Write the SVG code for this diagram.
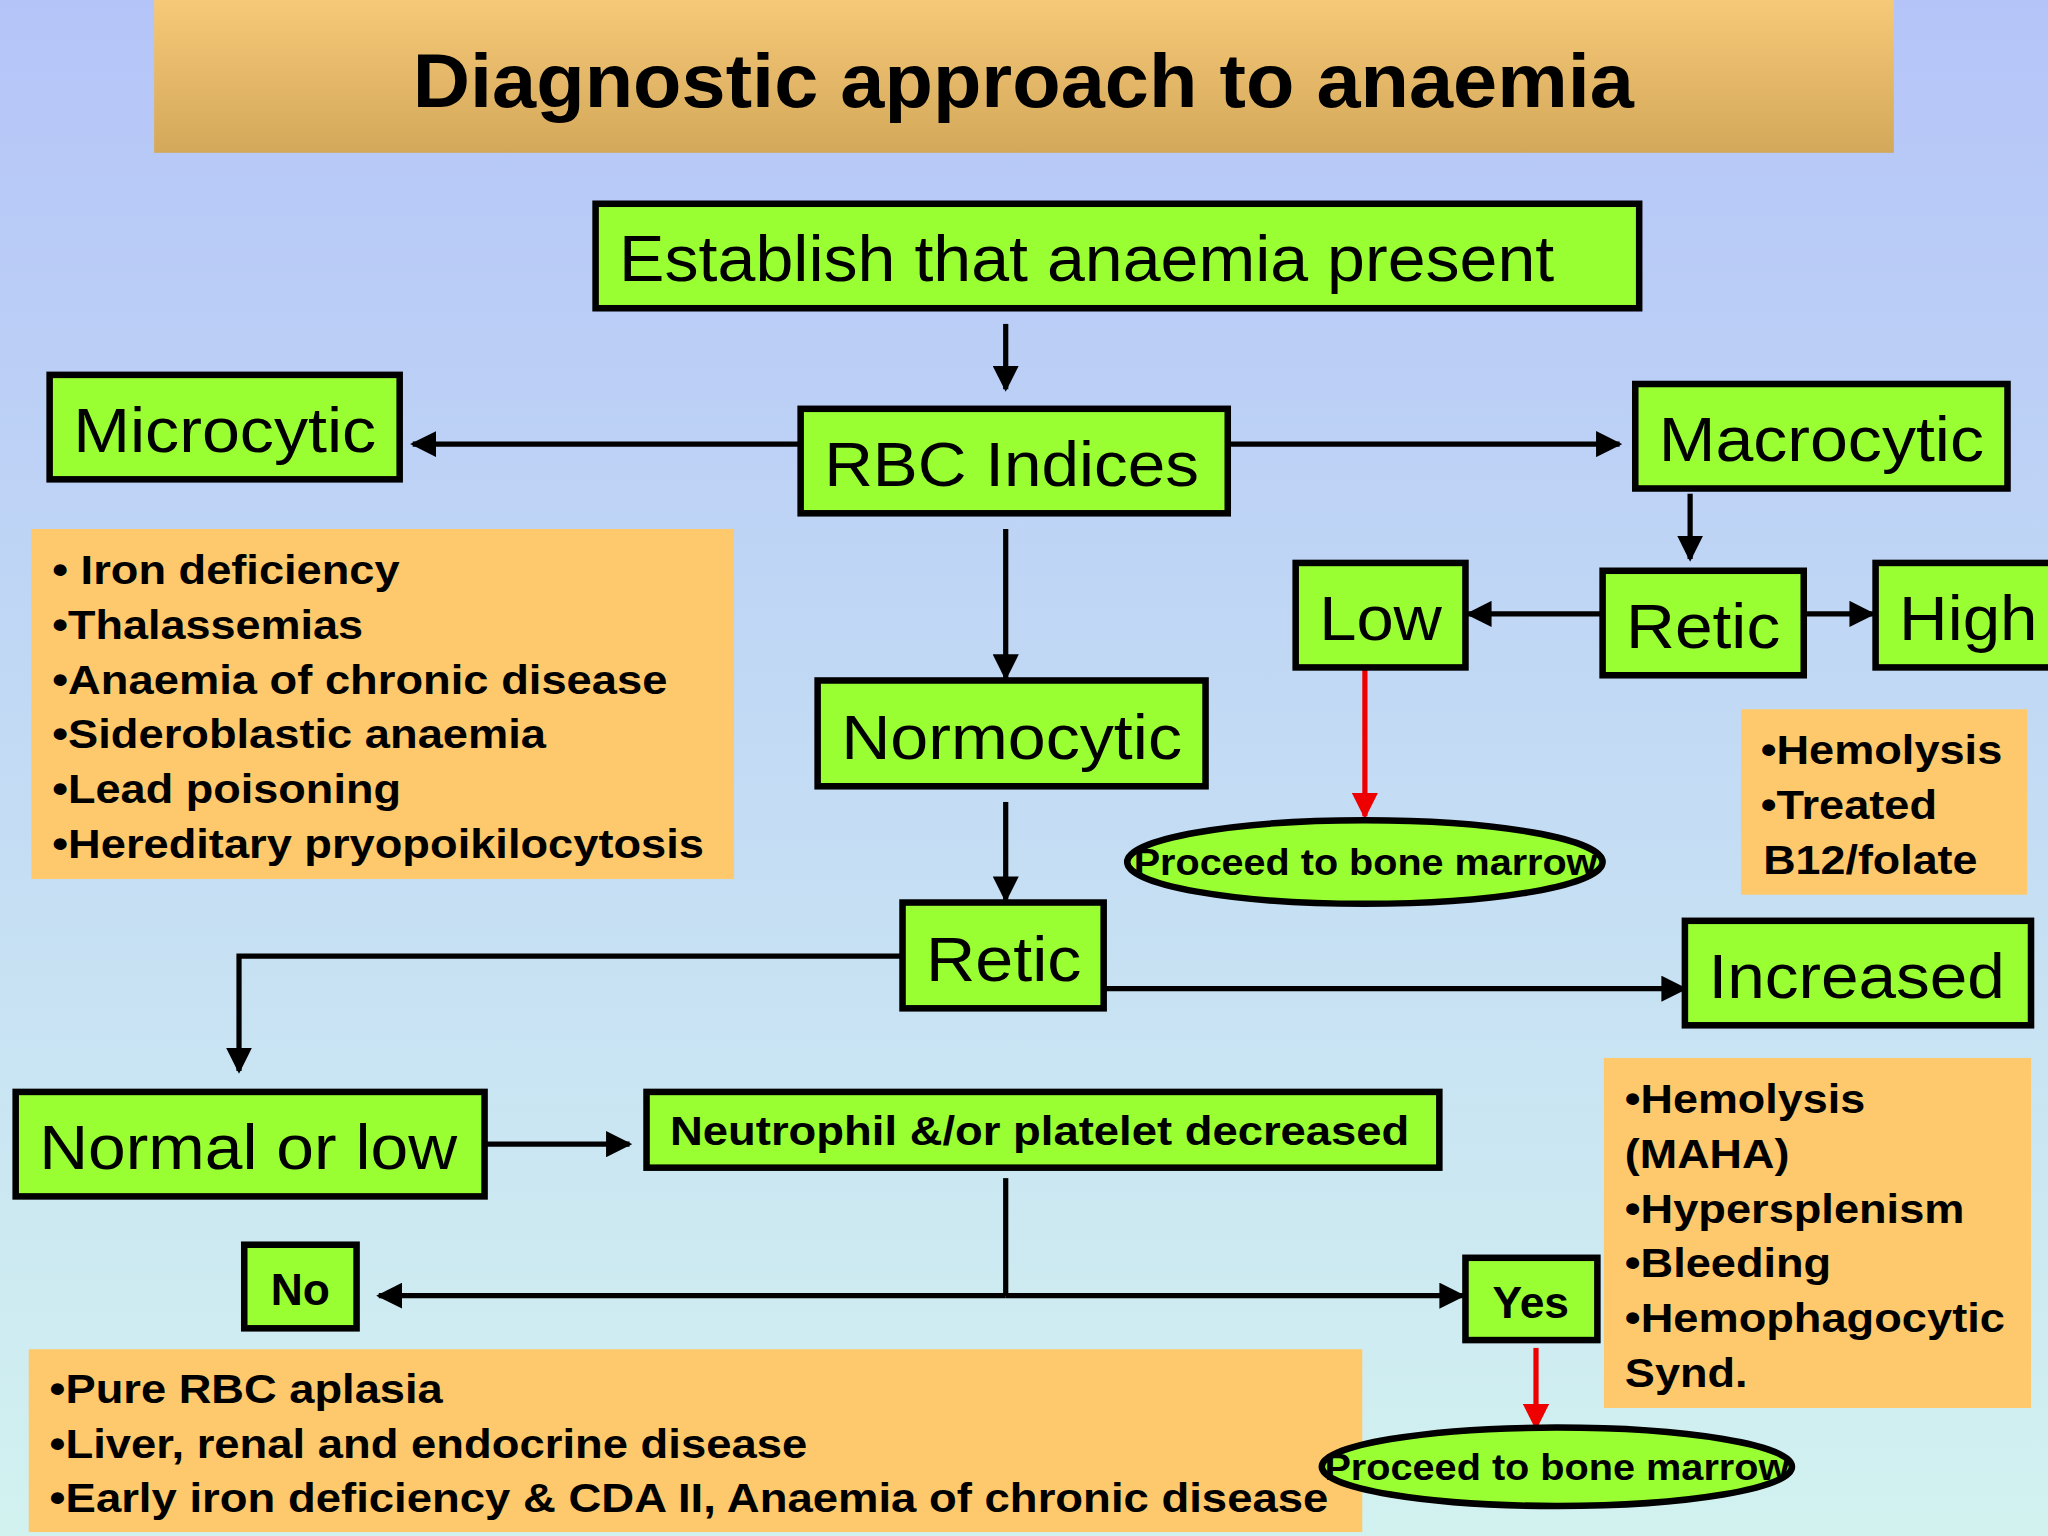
<svg xmlns="http://www.w3.org/2000/svg" width="2048" height="1536" viewBox="0 0 2048 1536">
<defs>
<linearGradient id="bg" x1="0" y1="0" x2="0" y2="1"><stop offset="0" stop-color="#b4c4f8"/><stop offset="1" stop-color="#d2f2f0"/></linearGradient>
<linearGradient id="tb" x1="0" y1="0" x2="0" y2="1"><stop offset="0" stop-color="#f6c978"/><stop offset="1" stop-color="#d4a85a"/></linearGradient>
<marker id="ab" viewBox="0 0 10 10" refX="9" refY="5" markerWidth="5" markerHeight="5" orient="auto"><path d="M0,0L10,5L0,10z" fill="#000"/></marker>
<marker id="ar" viewBox="0 0 10 10" refX="9" refY="5" markerWidth="5" markerHeight="5" orient="auto"><path d="M0,0L10,5L0,10z" fill="#e00"/></marker>
</defs>
<style>
.n{fill:#99ff33;stroke:#000;stroke-width:5}
.o{fill:#fdc96c}
.t{font-family:"Liberation Sans",Arial,sans-serif;fill:#000}
.b{font-weight:bold}
.c{stroke:#000;stroke-width:4;fill:none}
.r{stroke:#e00;stroke-width:4;fill:none}
</style>
<rect width="2048" height="1536" fill="url(#bg)"/>
<g transform="scale(1.30612)">
<g id="title"><rect x="118" y="0" width="1332" height="117" fill="url(#tb)"/><text class="t b" x="316" y="82" font-size="58" textLength="935" lengthAdjust="spacingAndGlyphs">Diagnostic approach to anaemia</text></g>
<g id="connectors">
<path class="c" d="M770,248V298" marker-end="url(#ab)"/>
<path class="c" d="M613,340H316" marker-end="url(#ab)"/>
<path class="c" d="M940,340H1240" marker-end="url(#ab)"/>
<path class="c" d="M1294,378V428" marker-end="url(#ab)"/>
<path class="c" d="M1227,470H1124" marker-end="url(#ab)"/>
<path class="c" d="M1381,470H1434" marker-end="url(#ab)"/>
<path class="r" d="M1045,511V625" marker-end="url(#ar)"/>
<path class="c" d="M770,405V519" marker-end="url(#ab)"/>
<path class="c" d="M770,614V689" marker-end="url(#ab)"/>
<path class="c" d="M691,732H183V820" marker-end="url(#ab)"/>
<path class="c" d="M845,757H1290" marker-end="url(#ab)"/>
<path class="c" d="M371,876H482" marker-end="url(#ab)"/>
<path class="c" d="M770,902V992"/>
<path class="c" d="M770,992H290" marker-end="url(#ab)"/>
<path class="c" d="M770,992H1120" marker-end="url(#ab)"/>
<path class="r" d="M1176,1032V1093" marker-end="url(#ar)"/>
</g>
<g id="establish"><rect class="n" x="456" y="156" width="799" height="80"/><text class="t" x="474" y="215" font-size="50" textLength="716" lengthAdjust="spacingAndGlyphs">Establish that anaemia present</text></g>
<g id="microcytic"><rect class="n" x="38" y="287" width="268" height="80"/><text class="t" x="56" y="346" font-size="48" textLength="232" lengthAdjust="spacingAndGlyphs">Microcytic</text></g>
<g id="rbc"><rect class="n" x="613" y="313" width="327" height="80"/><text class="t" x="631" y="372" font-size="48" textLength="287" lengthAdjust="spacingAndGlyphs">RBC Indices</text></g>
<g id="macrocytic"><rect class="n" x="1252" y="294" width="285" height="80"/><text class="t" x="1270" y="353" font-size="48" textLength="249" lengthAdjust="spacingAndGlyphs">Macrocytic</text></g>
<g id="micro-list"><rect class="o" x="24" y="405" width="538" height="268"/>
<g class="t b" font-size="31"><text x="40" y="447" textLength="266" lengthAdjust="spacingAndGlyphs">• Iron deficiency</text><text x="40" y="489" textLength="238" lengthAdjust="spacingAndGlyphs">•Thalassemias</text><text x="40" y="531" textLength="471" lengthAdjust="spacingAndGlyphs">•Anaemia of chronic disease</text><text x="40" y="573" textLength="378" lengthAdjust="spacingAndGlyphs">•Sideroblastic anaemia</text><text x="40" y="615" textLength="267" lengthAdjust="spacingAndGlyphs">•Lead poisoning</text><text x="40" y="657" textLength="499" lengthAdjust="spacingAndGlyphs">•Hereditary pryopoikilocytosis</text></g></g>
<g id="low"><rect class="n" x="992" y="431" width="130" height="80"/><text class="t" x="1010" y="490" font-size="48" textLength="94" lengthAdjust="spacingAndGlyphs">Low</text></g>
<g id="retic1"><rect class="n" x="1227" y="437" width="154" height="80"/><text class="t" x="1245" y="496" font-size="48" textLength="118" lengthAdjust="spacingAndGlyphs">Retic</text></g>
<g id="high"><rect class="n" x="1436" y="431" width="140" height="80"/><text class="t" x="1454" y="490" font-size="48" textLength="106" lengthAdjust="spacingAndGlyphs">High</text></g>
<g id="macro-list"><rect class="o" x="1333" y="543" width="219" height="142"/>
<g class="t b" font-size="31"><text x="1348" y="585" textLength="185" lengthAdjust="spacingAndGlyphs">•Hemolysis</text><text x="1348" y="627" textLength="135" lengthAdjust="spacingAndGlyphs">•Treated</text><text x="1350" y="669" textLength="164" lengthAdjust="spacingAndGlyphs">B12/folate</text></g></g>
<g id="bm1"><ellipse class="n" cx="1045" cy="660" rx="182" ry="32" stroke-width="3"/><text class="t b" x="868" y="670" font-size="28" textLength="355" lengthAdjust="spacingAndGlyphs">Proceed to bone marrow</text></g>
<g id="normocytic"><rect class="n" x="626" y="521" width="297" height="81"/><text class="t" x="644" y="581" font-size="48" textLength="261" lengthAdjust="spacingAndGlyphs">Normocytic</text></g>
<g id="retic2"><rect class="n" x="691" y="691" width="154" height="81"/><text class="t" x="709" y="751" font-size="48" textLength="119" lengthAdjust="spacingAndGlyphs">Retic</text></g>
<g id="increased"><rect class="n" x="1290" y="705" width="265" height="80"/><text class="t" x="1308" y="764" font-size="48" textLength="227" lengthAdjust="spacingAndGlyphs">Increased</text></g>
<g id="normal-low"><rect class="n" x="12" y="836" width="359" height="80"/><text class="t" x="30" y="895" font-size="48" textLength="320" lengthAdjust="spacingAndGlyphs">Normal or low</text></g>
<g id="neutrophil"><rect class="n" x="495" y="836" width="607" height="58"/><text class="t b" x="513" y="877" font-size="31" textLength="566" lengthAdjust="spacingAndGlyphs">Neutrophil &amp;/or platelet decreased</text></g>
<g id="no"><rect class="n" x="187" y="953" width="86" height="64"/><text class="t b" x="230" y="999" font-size="34" text-anchor="middle">No</text></g>
<g id="yes"><rect class="n" x="1122" y="963" width="101" height="63"/><text class="t b" x="1172" y="1009" font-size="34" text-anchor="middle">Yes</text></g>
<g id="inc-list"><rect class="o" x="1228" y="810" width="327" height="268"/>
<g class="t b" font-size="31"><text x="1244" y="852" textLength="184" lengthAdjust="spacingAndGlyphs">•Hemolysis</text><text x="1244" y="894" textLength="126" lengthAdjust="spacingAndGlyphs">(MAHA)</text><text x="1244" y="936" textLength="260" lengthAdjust="spacingAndGlyphs">•Hypersplenism</text><text x="1244" y="978" textLength="158" lengthAdjust="spacingAndGlyphs">•Bleeding</text><text x="1244" y="1020" textLength="291" lengthAdjust="spacingAndGlyphs">•Hemophagocytic</text><text x="1244" y="1062" textLength="94" lengthAdjust="spacingAndGlyphs">Synd.</text></g></g>
<g id="no-list"><rect class="o" x="22" y="1033" width="1021" height="140"/>
<g class="t b" font-size="31"><text x="38" y="1074" textLength="301" lengthAdjust="spacingAndGlyphs">•Pure RBC aplasia</text><text x="38" y="1116" textLength="580" lengthAdjust="spacingAndGlyphs">•Liver, renal and endocrine disease</text><text x="38" y="1158" textLength="979" lengthAdjust="spacingAndGlyphs">•Early iron deficiency &amp; CDA II, Anaemia of chronic disease</text></g></g>
<g id="bm2"><ellipse class="n" cx="1192" cy="1123" rx="180" ry="30" stroke-width="3"/><text class="t b" x="1014" y="1133" font-size="28" textLength="356" lengthAdjust="spacingAndGlyphs">Proceed to bone marrow</text></g>
</g>
</svg>
